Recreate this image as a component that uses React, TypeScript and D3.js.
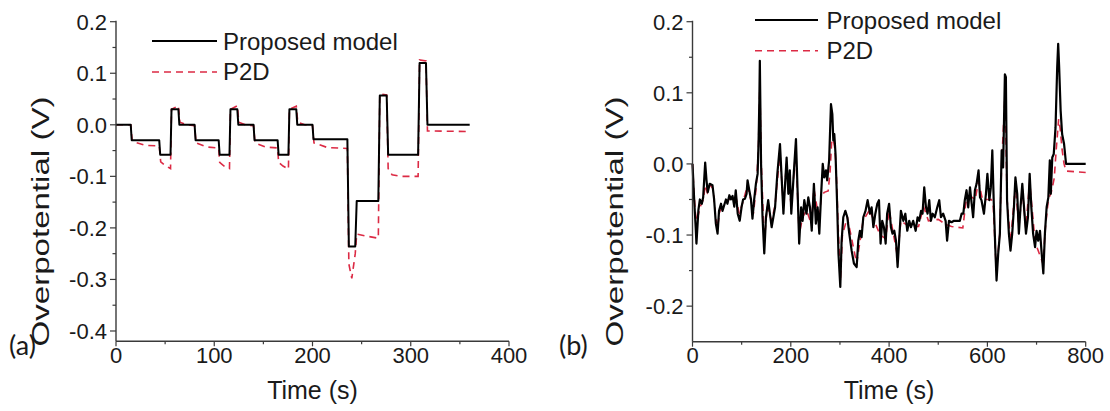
import React from "react";
import * as d3 from "d3";

// ---------- Panel (a) data: time (s), overpotential (V) ----------
const timeA_model = [0, 15, 16, 44, 45, 55.5, 56.5, 63.5, 64.5, 80, 81, 104.5, 105.5, 115.5, 116.5, 123.5, 124.5, 140, 141, 164.5, 165.5, 175.5, 176.5, 183.5, 184.5, 200, 201, 235.5, 237, 243.5, 245, 267, 268.5, 275.5, 277, 307.5, 309, 315.5, 317, 360];
const valA_model = [0, 0, -0.03, -0.03, -0.058, -0.058, 0.03, 0.03, 0, 0, -0.03, -0.03, -0.058, -0.058, 0.03, 0.03, 0, 0, -0.03, -0.03, -0.058, -0.058, 0.03, 0.03, 0, 0, -0.028, -0.028, -0.236, -0.236, -0.148, -0.148, 0.057, 0.057, -0.058, -0.058, 0.12, 0.12, 0, 0];

const timeA_p2d = [0, 15, 16.5, 30, 44, 45.5, 50, 55.5, 56.5, 63.5, 65, 72, 80, 81.5, 92, 104.5, 105.5, 110, 115.5, 116.5, 123.5, 125, 132, 140, 141.5, 152, 164.5, 165.5, 170, 175.5, 176.5, 183.5, 185, 192, 200, 201.5, 215, 235.5, 237, 240, 243.5, 245, 255, 267, 268.5, 275.5, 277, 281, 290, 307.5, 309, 315.5, 317, 360];
const valA_p2d = [0, 0, -0.032, -0.04, -0.041, -0.072, -0.079, -0.085, 0.03, 0.037, 0.005, 0.0, -0.002, -0.035, -0.043, -0.045, -0.073, -0.08, -0.085, 0.03, 0.037, 0.005, 0.0, -0.002, -0.035, -0.043, -0.045, -0.073, -0.08, -0.086, 0.03, 0.036, 0.005, 0.0, -0.002, -0.035, -0.044, -0.046, -0.27, -0.298, -0.25, -0.212, -0.216, -0.22, 0.06, 0.058, -0.085, -0.097, -0.1, -0.1, 0.126, 0.124, -0.012, -0.013];

// ---------- Panel (b) data ----------
const timeB_model = [0, 3.4, 6.8, 8, 12, 15, 19, 21.7, 25.8, 28.5, 31, 35, 40.7, 44, 47.5, 51, 54, 58, 61, 68, 71, 75, 78, 81.5, 85, 88, 92, 96, 100, 103, 106.7, 110, 112, 115.5, 119, 122, 125.5, 129, 132.5, 134.5, 136, 137, 139.5, 142.5, 146, 149.5, 154, 161, 168, 172.6, 178, 181, 185, 188, 191.5, 195, 198, 201, 206, 210.5, 214, 217, 221, 224, 227.5, 232, 235.6, 239, 242.6, 247, 251, 254.6, 258, 261.4, 265, 268, 271.5, 274, 278, 281.7, 284.5, 286.5, 288.5, 291, 294, 297, 300.7, 303.4, 306.8, 311, 315, 319, 323.8, 328.5, 334, 337.3, 340.7, 344, 347.5, 352, 356.3, 361, 364.4, 368, 372, 376, 379.4, 382.7, 386, 389.5, 393, 396, 400, 403.7, 407, 410.5, 414, 417.3, 420.8, 424, 429, 433, 437, 441, 444.5, 449, 454, 458, 461.4, 465, 468, 471.5, 475, 478.3, 481.7, 485, 488.5, 493, 498, 502, 505.5, 510, 515, 518, 521.8, 527, 532, 544, 547.5, 551, 554, 557.6, 561, 564.6, 568, 571, 574.6, 578, 582, 585, 588, 593, 597, 600, 604, 607, 610, 613, 616, 618.6, 622, 625.4, 629, 632, 635.6, 637.6, 640, 643.7, 647, 650.5, 654, 657, 660.7, 664, 667.4, 671, 674, 678.5, 682.5, 686, 689.4, 693, 697, 700, 703.4, 707, 710, 713.8, 717, 720.5, 724, 727, 729, 732, 735, 738.6, 742, 744, 746, 749, 752, 756, 760, 800];
const valB_model = [0, -0.05, -0.094, -0.112, -0.065, -0.05, -0.056, -0.047, 0.002, -0.023, -0.04, -0.028, -0.03, -0.05, -0.084, -0.098, -0.066, -0.056, -0.066, -0.05, -0.056, -0.044, -0.05, -0.045, -0.06, -0.037, -0.07, -0.08, -0.06, -0.05, -0.049, -0.042, -0.023, -0.037, -0.05, -0.077, -0.05, -0.028, -0.014, 0.033, 0.089, 0.145, 0, -0.075, -0.126, -0.075, -0.051, -0.089, -0.061, -0.014, 0.028, -0.014, -0.07, -0.033, 0.009, -0.042, -0.009, -0.07, -0.014, 0.035, -0.042, -0.112, -0.061, -0.08, -0.051, -0.07, -0.047, -0.061, -0.094, -0.028, -0.084, -0.061, -0.098, -0.047, 0, -0.019, -0.009, -0.023, 0.005, 0.084, 0.07, 0.033, 0.042, 0.014, -0.051, -0.126, -0.173, -0.108, -0.075, -0.066, -0.075, -0.098, -0.122, -0.14, -0.145, -0.108, -0.094, -0.103, -0.075, -0.066, -0.051, -0.07, -0.061, -0.089, -0.07, -0.056, -0.051, -0.112, -0.08, -0.089, -0.112, -0.07, -0.056, -0.089, -0.098, -0.094, -0.108, -0.145, -0.103, -0.066, -0.08, -0.07, -0.094, -0.08, -0.089, -0.08, -0.094, -0.075, -0.08, -0.066, -0.07, -0.033, -0.061, -0.07, -0.051, -0.08, -0.07, -0.075, -0.061, -0.051, -0.075, -0.07, -0.08, -0.108, -0.08, -0.082, -0.08, -0.08, -0.07, -0.07, -0.051, -0.037, -0.061, -0.033, -0.056, -0.075, -0.037, -0.028, -0.009, -0.047, -0.051, -0.07, -0.042, -0.014, -0.051, -0.033, 0.019, -0.056, -0.117, -0.164, -0.126, -0.098, 0.019, -0.005, 0.126, 0.122, -0.051, -0.098, -0.122, -0.098, -0.061, -0.019, -0.042, -0.098, -0.061, -0.028, -0.056, -0.098, -0.075, -0.014, -0.061, -0.098, -0.117, -0.094, -0.108, -0.094, -0.122, -0.154, -0.098, -0.061, -0.047, 0.005, -0.042, 0.009, 0.014, 0.051, 0.136, 0.169, 0.136, 0.075, 0.042, 0.028, 0, 0];

const timeB_p2d = [0, 3, 6, 9, 13, 17, 22, 26, 30, 36, 42, 47, 51, 55, 60, 70, 80, 88, 95, 102, 112, 120, 124, 130, 134, 137, 140, 146, 152, 161, 168, 178, 185, 191, 201, 210, 217, 224, 232, 242, 247, 258, 262, 268, 276, 280, 283, 286, 289, 292, 297, 301, 305, 315, 334, 347, 360, 382, 393, 400, 417, 424, 440, 460, 470, 480, 500, 515, 527, 550, 557, 565, 575, 582, 590, 600, 608, 612, 618, 625, 629, 636, 640, 647, 657, 664, 671, 678, 686, 697, 713, 718, 724, 730, 736, 740, 745, 748, 752, 756, 760, 800];
const valB_p2d = [0, -0.04, -0.07, -0.08, -0.068, -0.058, -0.05, -0.03, -0.04, -0.03, -0.035, -0.075, -0.09, -0.068, -0.06, -0.052, -0.048, -0.045, -0.07, -0.055, -0.03, -0.055, -0.07, -0.03, 0.02, 0.11, 0.0, -0.11, -0.06, -0.08, -0.058, 0.015, -0.06, 0.0, -0.06, 0.02, -0.1, -0.075, -0.065, -0.085, -0.035, -0.08, -0.045, -0.04, -0.038, -0.01, 0.03, 0.035, 0.025, 0.0, -0.1, -0.165, -0.1, -0.075, -0.14, -0.08, -0.065, -0.1, -0.105, -0.065, -0.13, -0.08, -0.088, -0.088, -0.06, -0.08, -0.078, -0.085, -0.088, -0.09, -0.05, -0.045, -0.05, -0.025, -0.05, -0.05, -0.05, -0.06, -0.15, -0.1, 0.0, 0.1, -0.05, -0.11, -0.03, -0.09, -0.035, -0.09, -0.025, -0.11, -0.14, -0.09, -0.05, -0.04, -0.02, 0.02, 0.063, 0.05, 0.02, 0.0, -0.01, -0.012];

// ---------- Axis ticks & labels ----------
const xMajorA = [0, 100, 200, 300, 400];
const xMinorA = [50, 150, 250, 350];
const yMajorA = [0.2, 0.1, 0.0, -0.1, -0.2, -0.3, -0.4];
const yMinorA = [0.15, 0.05, -0.05, -0.15, -0.25, -0.35];
const xMajorB = [0, 200, 400, 600, 800];
const xMinorB = [100, 300, 500, 700];
const yMajorB = [0.2, 0.1, 0.0, -0.1, -0.2];
const yMinorB = [0.15, 0.05, -0.05, -0.15];
const seriesNames = ["Proposed model", "P2D"];
const xTitle = "Time (s)";
const yTitle = "Overpotential (V)";
const panelTags = ["(a)", "(b)"];

const FONT = "'Liberation Sans', Arial, sans-serif";
const RED = "#dc2a44";
const AXIS = "#3a3a3a";

const fmtY = (v: number) => (Math.abs(v) < 1e-9 ? "0.0" : v.toFixed(1));

type PanelProps = {
  xDomain: [number, number];
  xRange: [number, number];
  yDomain: [number, number];
  yRange: [number, number];
  xMajor: number[];
  xMinor: number[];
  yMajor: number[];
  yMinor: number[];
  tA: number[];
  vA: number[];
  tB: number[];
  vB: number[];
  legend: { x1: number; x2: number; tx: number; y1: number; y2: number; b1: number; b2: number };
  yTitleX: number;
  tag: string;
  tagX: number;
  modelWidth: number;
};

function Panel(p: PanelProps) {
  const x = d3.scaleLinear().domain(p.xDomain).range(p.xRange);
  const y = d3.scaleLinear().domain(p.yDomain).range(p.yRange);
  const line = d3
    .line<[number, number]>()
    .x((d) => x(d[0]))
    .y((d) => y(d[1]));
  const modelPts = p.tA.map((t, i) => [t, p.vA[i]] as [number, number]);
  const p2dPts = p.tB.map((t, i) => [t, p.vB[i]] as [number, number]);
  const x0 = p.xRange[0];
  const yBottom = p.yRange[0];
  const yTop = p.yRange[1];
  const xc = (p.xRange[0] + p.xRange[1]) / 2;
  return (
    <g>
      {/* data */}
      <path d={line(p2dPts) || ""} fill="none" stroke={RED} strokeWidth={1.6} strokeDasharray="7,5" />
      <path d={line(modelPts) || ""} fill="none" stroke="#000" strokeWidth={p.modelWidth} strokeLinejoin="round" />

      {/* axes */}
      <line x1={x0} x2={x0} y1={yTop - 1} y2={yBottom} stroke={AXIS} strokeWidth={1.4} />
      <line x1={x0} x2={p.xRange[1]} y1={yBottom} y2={yBottom} stroke={AXIS} strokeWidth={1.4} />
      {p.yMajor.map((v) => (
        <g key={"ym" + v}>
          <line x1={x0 - 6} x2={x0} y1={y(v)} y2={y(v)} stroke={AXIS} strokeWidth={1.2} />
          <text x={x0 - 9} y={y(v)} dy="0.36em" textAnchor="end" fontFamily={FONT} fontSize={22} fill="#1a1a1a">
            {fmtY(v)}
          </text>
        </g>
      ))}
      {p.yMinor.map((v) => (
        <line key={"yn" + v} x1={x0 - 3.5} x2={x0} y1={y(v)} y2={y(v)} stroke={AXIS} strokeWidth={1.2} />
      ))}
      {p.xMajor.map((v) => (
        <g key={"xm" + v}>
          <line x1={x(v)} x2={x(v)} y1={yBottom} y2={yBottom + 5} stroke={AXIS} strokeWidth={1.2} />
          <text x={x(v)} y={363} textAnchor="middle" fontFamily={FONT} fontSize={22} fill="#1a1a1a">
            {v}
          </text>
        </g>
      ))}
      {p.xMinor.map((v) => (
        <line key={"xn" + v} x1={x(v)} x2={x(v)} y1={yBottom} y2={yBottom + 3} stroke={AXIS} strokeWidth={1.2} />
      ))}

      {/* titles */}
      <text x={xc} y={399} textAnchor="middle" fontFamily={FONT} fontSize={25} fill="#1a1a1a">
        {xTitle}
      </text>
      <text
        transform={`translate(${p.yTitleX},221.5) rotate(-90)`}
        textAnchor="middle"
        dy="0.35em"
        fontFamily={FONT}
        fontSize={23}
        fill="#1a1a1a"
        textLength={250}
        lengthAdjust="spacingAndGlyphs"
      >
        {yTitle}
      </text>
      <text x={p.tagX} y={355} fontFamily="Lato, 'Open Sans', sans-serif" fontSize={27} fill="#1a1a1a">
        {p.tag}
      </text>

      {/* legend */}
      <line x1={p.legend.x1} x2={p.legend.x2} y1={p.legend.y1} y2={p.legend.y1} stroke="#000" strokeWidth={2} />
      <text x={p.legend.tx} y={p.legend.b1} fontFamily={FONT} fontSize={24} fill="#1a1a1a">
        {seriesNames[0]}
      </text>
      <line x1={p.legend.x1} x2={p.legend.x2} y1={p.legend.y2} y2={p.legend.y2} stroke={RED} strokeWidth={1.6} strokeDasharray="7,5" />
      <text x={p.legend.tx} y={p.legend.b2} fontFamily={FONT} fontSize={24} fill="#1a1a1a">
        {seriesNames[1]}
      </text>
    </g>
  );
}

export default function App() {
  return (
    <svg
      width={1110}
      height={411}
      style={{ position: "absolute", left: 0, top: 0, background: "#fff", display: "block" }}
    >
      <rect width={1110} height={411} fill="#fff" />
      <Panel
        xDomain={[0, 400]}
        xRange={[116, 509]}
        yDomain={[-0.42, 0.2]}
        yRange={[341.3, 21.7]}
        xMajor={xMajorA}
        xMinor={xMinorA}
        yMajor={yMajorA}
        yMinor={yMinorA}
        tA={timeA_model}
        vA={valA_model}
        tB={timeA_p2d}
        vB={valA_p2d}
        legend={{ x1: 152, x2: 217, tx: 223, y1: 41, y2: 72, b1: 49.5, b2: 80 }}
        yTitleX={40.5}
        tag={panelTags[0]}
        tagX={9}
        modelWidth={2}
      />
      <Panel
        xDomain={[0, 800]}
        xRange={[692.5, 1085.7]}
        yDomain={[-0.25, 0.2]}
        yRange={[341.7, 21.7]}
        xMajor={xMajorB}
        xMinor={xMinorB}
        yMajor={yMajorB}
        yMinor={yMinorB}
        tA={timeB_model}
        vA={valB_model}
        tB={timeB_p2d}
        vB={valB_p2d}
        legend={{ x1: 755, x2: 818, tx: 826.5, y1: 20, y2: 50.7, b1: 28.5, b2: 59.3 }}
        yTitleX={615}
        tag={panelTags[1]}
        tagX={559}
        modelWidth={2.2}
      />
    </svg>
  );
}
